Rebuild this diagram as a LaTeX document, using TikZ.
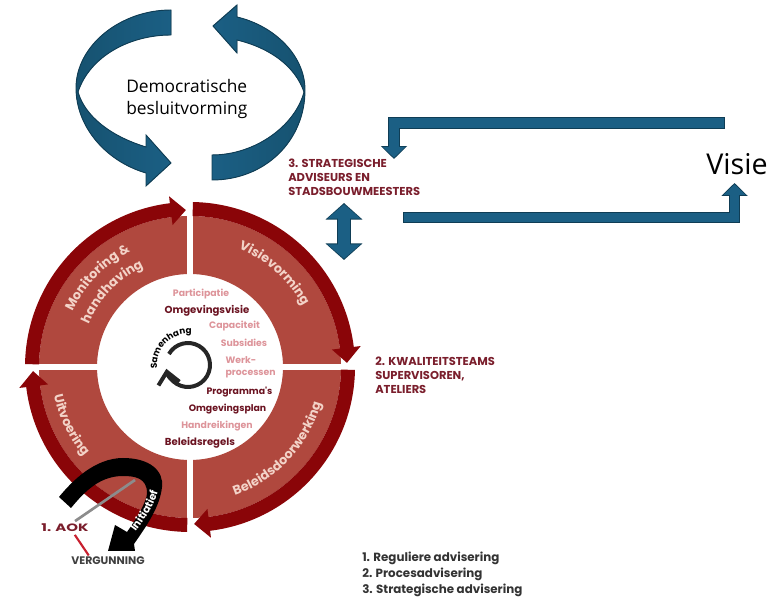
\documentclass[tikz,border=0pt]{standalone}
\usepackage{fontspec}
\usepackage{graphicx}
\setmainfont{Open Sans}
\newfontfamily\wheelfont{Poppins}
\usetikzlibrary{arrows.meta,decorations.text}
\definecolor{wheellight}{HTML}{B0483E}
\definecolor{wheeldark}{HTML}{8A0508}
\definecolor{labelred}{HTML}{7A1E2C}
\definecolor{itemdark}{HTML}{6A1220}
\definecolor{itempink}{HTML}{DD949A}
\definecolor{wheeltext}{HTML}{F3D3C8}
\definecolor{ribbonblue}{HTML}{1B5F84}
\definecolor{ribbonfold}{HTML}{165270}
\definecolor{ribbonedge}{HTML}{0F3D55}
\definecolor{linered}{HTML}{C8202F}
\tikzset{
  itemtext/.style={font=\wheelfont\bfseries\fontsize{7}{8}\selectfont, inner sep=1pt},
  itemdarktext/.style={itemtext, text=itemdark},
  itempinktext/.style={itemtext, text=itempink},
  adviestext/.style={font=\wheelfont\bfseries\fontsize{8.6}{10.4}\selectfont, text=labelred, align=left, anchor=west, inner sep=0pt},
  ribbon/.style={draw=ribbonedge, line width=.7pt, left color=ribbonfold, right color=ribbonblue},
  blockline/.style={draw=ribbonedge, line width=8.8pt, -{Triangle[length=9.6pt,width=19pt]},
    postaction={draw=ribbonblue, line width=7.4pt, shorten >=1pt, shorten <=.7pt, -{Triangle[length=8pt,width=16.4pt]}}},
  blockdouble/.style={draw=ribbonedge, line width=10.8pt, {Triangle[length=12.4pt,width=27pt]}-{Triangle[length=12.4pt,width=27pt]},
    postaction={draw=ribbonblue, line width=9.4pt, shorten >=1pt, shorten <=1pt, {Triangle[length=10.8pt,width=24.4pt]}-{Triangle[length=10.8pt,width=24.4pt]}}},
}
\begin{document}
\begin{tikzpicture}
  [x=.75pt,y=.75pt]
  \useasboundingbox (0,0) rectangle (777,606);

  \coordinate (hub) at (190,239);
  \fill[wheellight, even odd rule] (hub) circle[radius=151] (hub) circle[radius=93];
  \draw[white, line width=4.5pt] (190,70) -- (190,408);
  \draw[white, line width=4.5pt] (20,239) -- (360,239);
  \foreach \turn in {0,90,180,270}
    \fill[wheeldark, shift={(190,239)}, rotate=\turn] (89:165) arc[start angle=89, end angle=7, radius=165]
      -- (7:172) -- (1.5:157) -- (7:143) -- (7:151) arc[start angle=7, end angle=89, radius=151] -- cycle;

  \path[decorate, decoration={text along path, text align=center, text color=wheeltext, text={|\wheelfont\bfseries\fontsize{9.6}{10}\selectfont|Visievorming}}]
    (190,239) ++(88:128) arc[start angle=88, end angle=8, radius=128];
  \path[decorate, decoration={text along path, text align=center, text color=wheeltext, text={|\wheelfont\bfseries\fontsize{9.6}{10}\selectfont|Monitoring {\&}}}]
    (190,239) ++(178:130) arc[start angle=178, end angle=94, radius=130];
  \path[decorate, decoration={text along path, text align=center, text color=wheeltext, text={|\wheelfont\bfseries\fontsize{9.6}{10}\selectfont|handhaving}}]
    (190,239) ++(178:110) arc[start angle=178, end angle=94, radius=110];
  \path[decorate, decoration={text along path, text align=center, text color=wheeltext, text={|\wheelfont\bfseries\fontsize{9.6}{10}\selectfont|Uitvoering}}]
    (190,239) ++(182:139) arc[start angle=182, end angle=230, radius=139];
  \path[decorate, decoration={text along path, text align=center, text color=wheeltext, text={|\wheelfont\bfseries\fontsize{9.6}{10}\selectfont|Beleidsdoorwerking}}]
    (190,239) ++(-88:136) arc[start angle=-88, end angle=2, radius=136];

  \node[itempinktext] (participatie) at (201,312) {Participatie};
  \node[itemdarktext, font=\wheelfont\bfseries\fontsize{7.6}{8}\selectfont] (omgevingsvisie) at (207,295) {Omgevingsvisie};
  \node[itempinktext] (capaciteit) at (234.5,280) {Capaciteit};
  \node[itempinktext] (subsidies) at (244,263) {Subsidies};
  \node[itempinktext, align=left, anchor=west, font=\wheelfont\bfseries\fontsize{7}{9}\selectfont] (werkprocessen) at (224,239) {Werk-\\processen};
  \node[itemdarktext] (programmas) at (239.5,214) {Programma's};
  \node[itemdarktext] (omgevingsplan) at (227.5,197) {Omgevingsplan};
  \node[itempinktext] (handreikingen) at (217,180) {Handreikingen};
  \node[itemdarktext, font=\wheelfont\bfseries\fontsize{7.6}{8}\selectfont] (beleidsregels) at (200,163) {Beleidsregels};

  \draw[black!85, line width=3pt, -{Straight Barb[length=9pt,width=16pt]}]
    (188,241) ++(150:22) arc[start angle=150, end angle=-170, radius=22];
  \path[decorate, decoration={text along path, text align=center, text color=black, text={|\wheelfont\bfseries\fontsize{6.6}{6.6}\selectfont|Samenhang}}]
    (188,241) ++(200:31) arc[start angle=200, end angle=70, radius=31];

  \fill[ribbon] (171,596) .. controls (120,596) and (76,560) .. (76,518)
    .. controls (76,480) and (105,445) .. (146,433) -- (146,420) -- (171,443) -- (146,471) -- (146,459)
    .. controls (110,470) and (85,490) .. (78,514) .. controls (90,550) and (130,571) .. (171,571) -- cycle;
  \fill[ribbon, left color=ribbonblue, right color=ribbonfold] (212,426) .. controls (265,426) and (305,465) .. (305,516)
    .. controls (305,550) and (275,580) .. (237,589) -- (237,601) -- (213,580) -- (237,553) -- (237,566)
    .. controls (270,558) and (295,540) .. (304,514) .. controls (295,480) and (255,451) .. (212,451) -- cycle;
  \node[anchor=west, align=left, inner sep=0pt, font=\fontsize{13}{16.5}\selectfont] (besluitvorming) at (126,507) {Democratische\\besluitvorming};

  \node[font=\fontsize{21.5}{24}\selectfont, inner sep=2pt] (visie) at (737,442) {Visie};
  \node[adviestext] (adv_strat) at (288,429) {3. STRATEGISCHE\\ADVISEURS EN\\STADSBOUWMEESTERS};
  \node[adviestext] (adv_team) at (375,231) {2. KWALITEITSTEAMS\\SUPERVISOREN,\\ATELIERS};

  \coordinate (visie_out) at (725,483);
  \coordinate (adv_in) at (394,447);
  \coordinate (adv_out) at (403,388.5);
  \coordinate (visie_in) at (734.5,423);
  \coordinate (adv_down) at (344,403);
  \coordinate (wheel_up) at (344,346);
  \draw[blockline] (visie_out) -| (adv_in);
  \draw[blockline] (adv_out) -| (visie_in);
  \draw[blockdouble] (adv_down) -- (wheel_up);

  \fill[black] (59,109) .. controls (72,125) and (95,148) .. (123,148) .. controls (150,148) and (164,135) .. (162,119)
    .. controls (160,100) and (148,82) .. (134,62) -- (135,55) -- (108,55) -- (115,81) -- (127,74)
    .. controls (137,88) and (147,105) .. (147,113) .. controls (147,128) and (135,130) .. (123,130)
    .. controls (100,130) and (85,115) .. (71,98) -- cycle;
  \path[decorate, decoration={text along path, text align=center, text color=white, text={|\wheelfont\bfseries\fontsize{8}{8}\selectfont|Initiatief}}]
    (131,68) .. controls (143,85) and (158,103) .. (159,122);

  \node[font=\wheelfont\bfseries\fontsize{8}{9}\selectfont, text=labelred, inner sep=2pt] (aok) at (65,78) {\scalebox{1.4}[1]{1. AOK}};
  \node[font=\wheelfont\bfseries\fontsize{8.2}{9}\selectfont, text=black!75, inner sep=1pt] (vergunning) at (108,45) {VERGUNNING};
  \coordinate (aok_pin) at (135,126);
  \draw[black!45, line width=2pt] (aok) -- (aok_pin);
  \draw[linered, line width=1.6pt] (aok.-35) -- (vergunning.164);

  \node[anchor=west, align=left, inner sep=0pt, text=black!80, font=\wheelfont\bfseries\fontsize{8.9}{12}\selectfont] (adviesvormen) at (362,32)
    {1. Reguliere advisering\\2. Procesadvisering\\3. Strategische advisering};
\end{tikzpicture}
\end{document}
